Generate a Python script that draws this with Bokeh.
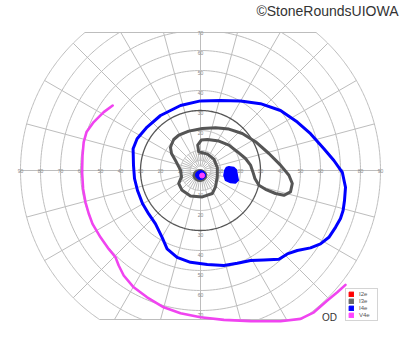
import numpy as np
from bokeh.plotting import figure
from bokeh.models import Range1d, Label, Legend, LegendItem
from bokeh.embed import file_html
from bokeh.resources import INLINE
from bokeh.core.properties import value

# ---------------- data (degrees of visual field) ----------------
ring_radii = [5, 10, 20, 30, 40, 50, 60, 70, 80, 90]
spoke_angles = list(range(0, 360, 15))
inner_spoke_angles = [a + 7.5 for a in range(0, 360, 15)]
axis_labels = [10, 20, 30, 40, 50, 60, 70, 80, 90]
vert_labels = [10, 20, 30, 40, 50, 60, 70]
top_limit = 69.0
bottom_limit = -74.5
outer_radius = 90.0
emphasis_radius = 30

v4e_x = [-43.9, -48.4, -53.4, -57.0, -58.4, -59.0, -59.2, -58.7, -57.5, -55.9, -54.0, -50.0,
         -45.9, -42.5, -40.9, -38.4, -33.4, -26.7, -18.4, -10.0, 0.0, 11.7, 25.0, 40.0, 50.0,
         56.7, 63.4, 68.4, 72.5]
v4e_y = [32.5, 29.2, 24.2, 19.2, 14.2, 7.5, -0.9, -9.2, -15.9, -21.5, -26.7, -33.4,
         -39.2, -43.4, -47.5, -52.5, -58.4, -63.4, -68.4, -71.4, -73.4, -74.7, -75.3, -75.4, -74.2,
         -70.9, -65.0, -60.9, -57.2]

i4e_x = [0.0, 10.0, 20.0, 30.0, 40.0, 48.4, 55.0, 61.7, 66.7, 70.9, 72.5, 72.0, 71.3, 70.0,
         67.5, 64.2, 60.0, 55.0, 48.4, 43.4, 39.2, 31.7, 25.0, 18.4, 11.7, 3.4, -5.0, -11.7,
         -16.7, -19.2, -22.5, -25.9, -29.0, -31.5, -33.0, -33.5, -33.7, -31.7, -26.7, -20.0, -10.0]
i4e_y = [34.8, 35.0, 34.7, 33.4, 30.0, 24.2, 18.4, 10.9, 5.0, -0.9, -8.4, -15.0, -20.0, -24.0,
         -28.4, -33.4, -36.7, -38.7, -40.0, -41.7, -44.4, -44.7, -45.0, -46.4, -47.5, -47.0, -45.9, -43.4,
         -39.2, -33.4, -26.7, -21.7, -16.5, -10.0, -4.0, 2.5, 10.9, 15.9, 21.7, 27.5, 32.5]

i3e_x = [-14.7, -13.4, -10.9, -5.9, 0.9, 7.5, 14.2, 20.9, 27.5, 34.2, 40.0, 44.2, 45.9, 45.0,
         41.7, 37.5, 32.5, 29.2, 27.2, 26.2, 25.0, 22.5, 18.4, 14.2, 9.2, 3.5, 0.4, -1.4, -0.9,
         3.5, 6.7, 8.4, 8.4, 7.5, 5.9, 0.9, -5.0, -9.2, -10.9, -9.5, -10.0, -12.5, -14.5, -15.0]
i3e_y = [12.5, 15.5, 17.7, 19.7, 21.0, 21.4, 20.7, 18.5, 14.4, 8.5, 2.7, -2.4, -6.5, -10.7,
         -12.4, -11.5, -9.4, -7.4, -4.0, -0.7, 2.7, 6.0, 9.4, 12.7, 14.7, 15.5, 15.2, 12.7, 9.4,
         8.2, 5.7, 1.5, -3.0, -8.2, -11.5, -13.2, -12.7, -9.9, -6.5, -3.2, 0.2, 5.0, 8.5, 11.5]

blind_x = [14.2, 16.7, 18.0, 18.4, 18.9, 17.5, 15.0, 12.5, 11.7, 12.2, 13.0]
blind_y = [1.9, 1.5, 0.2, -2.4, -4.9, -6.2, -6.0, -4.9, -2.4, 0.2, 1.5]

center_x = [-0.3, 0.0, 0.8]
center_y = [-2.5, -2.3, -2.5]
center_w = [7.0, 5.0, 2.5]
center_h = [6.0, 4.5, 2.5]
center_colors = ["#595959", "#0000ff", "#ff44ff"]

legend_labels = ["I2e", "I3e", "I4e", "V4e"]
legend_colors = ["#ff0000", "#666666", "#0000ff", "#ff44ff"]

# ---------------- figure ----------------
p = figure(width=400, height=352, x_range=Range1d(-100, 100), y_range=Range1d(-91, 85),
           output_backend="svg", toolbar_location=None,
           x_axis_location=None, y_axis_location=None,
           min_border=0, outline_line_color=None,
           background_fill_color="white", border_fill_color="white")
p.grid.visible = False


def arc_segments(r):
    a_top = np.arcsin(top_limit / r) if r > top_limit else None
    a_bot = np.arcsin(-bottom_limit / r) if r > -bottom_limit else None
    if a_top is None and a_bot is None:
        return [(0.0, 2 * np.pi)]
    if a_bot is None:
        return [(np.pi - a_top, 2 * np.pi + a_top)]
    if a_top is None:
        return [(-a_bot, np.pi + a_bot)]
    return [(-a_bot, a_top), (np.pi - a_top, np.pi + a_bot)]


ring_xs, ring_ys = [], []
for r in ring_radii:
    if r == emphasis_radius:
        continue
    for t0, t1 in arc_segments(r):
        t = np.linspace(t0, t1, 240)
        ring_xs.append(list(r * np.cos(t)))
        ring_ys.append(list(r * np.sin(t)))


def spoke_end(theta):
    s = np.sin(theta)
    r_end = outer_radius
    if s > 1e-9:
        r_end = min(r_end, top_limit / s)
    elif s < -1e-9:
        r_end = min(r_end, bottom_limit / s)
    return r_end


sp_xs, sp_ys = [], []
for a in spoke_angles:
    th = np.radians(a)
    re = spoke_end(th)
    sp_xs.append([2 * np.cos(th), re * np.cos(th)])
    sp_ys.append([2 * np.sin(th), re * np.sin(th)])
for a in inner_spoke_angles:
    th = np.radians(a)
    sp_xs.append([5 * np.cos(th), 10 * np.cos(th)])
    sp_ys.append([5 * np.sin(th), 10 * np.sin(th)])

# chords closing top and bottom
ct = np.sqrt(outer_radius ** 2 - top_limit ** 2)
cb = np.sqrt(outer_radius ** 2 - bottom_limit ** 2)
sp_xs += [[-ct, ct], [-cb, cb]]
sp_ys += [[top_limit, top_limit], [bottom_limit, bottom_limit]]

grid_color = "#bdbdbd"
p.multi_line(ring_xs, ring_ys, line_color=grid_color, line_width=1)
p.multi_line(sp_xs, sp_ys, line_color=grid_color, line_width=1)

t = np.linspace(0, 2 * np.pi, 300)
p.line(emphasis_radius * np.cos(t), emphasis_radius * np.sin(t), line_color="#555555", line_width=1.3)

# axis numbers
hx = [-v for v in axis_labels] + axis_labels
hy = [0] * len(hx)
ht = [str(v) for v in axis_labels] * 2
p.text(hx, hy, text=ht, text_font=value("Liberation Sans"), text_font_size="5px",
       text_color="#888888", text_align="center", text_baseline="middle")
p.text([0] * len(vert_labels), vert_labels, text=[str(v) for v in vert_labels],
       text_font=value("Liberation Sans"), text_font_size="5px", text_color="#888888",
       text_align="center", text_baseline="middle", y_offset=2)
p.text([0] * len(vert_labels), [-v for v in vert_labels], text=[str(v) for v in vert_labels],
       text_font=value("Liberation Sans"), text_font_size="5px", text_color="#888888",
       text_align="center", text_baseline="middle", y_offset=4)

# isopters
p.line(v4e_x, v4e_y, line_color="#f044f0", line_width=2.6, line_join="round", line_cap="round")
p.line(i4e_x + i4e_x[:1], i4e_y + i4e_y[:1], line_color="#0000ff", line_width=3, line_join="round")
p.line(i3e_x + i3e_x[:1], i3e_y + i3e_y[:1], line_color="#555555", line_width=3, line_join="round")
p.patch(blind_x, blind_y, fill_color="#0000ff", line_color="#0000ff", line_width=1.5)
p.ellipse(center_x, center_y, width=center_w, height=center_h,
          fill_color=center_colors, line_color=center_colors)

# legend (swatch renderers hold no drawable data)
items = []
for lab, col in zip(legend_labels, legend_colors):
    rr = p.quad(left=[np.nan], right=[np.nan], top=[np.nan], bottom=[np.nan],
                fill_color=col, line_color=col)
    items.append(LegendItem(label=lab, renderers=[rr], index=0))
legend = Legend(items=items, location=(345, 31), glyph_width=6, glyph_height=6,
                label_height=6, label_width=16, label_text_font_size="6px",
                label_text_color="#555555", label_text_font="Liberation Sans",
                spacing=1, padding=2, margin=0, label_standoff=5,
                border_line_color="#aaaaaa", background_fill_alpha=1.0)
p.add_layout(legend)

p.add_layout(Label(x=398, y=342, x_units="screen", y_units="screen",
                   text="\u00a9StoneRoundsUIOWA", text_align="right", text_baseline="middle",
                   text_font="Liberation Sans", text_font_size="14px", text_color="#333333"))
p.add_layout(Label(x=321.5, y=35, x_units="screen", y_units="screen",
                   text="OD", text_align="left", text_baseline="middle",
                   text_font="Liberation Sans", text_font_size="10px", text_color="#333333"))

open("out.html", "w").write(file_html(p, INLINE))
